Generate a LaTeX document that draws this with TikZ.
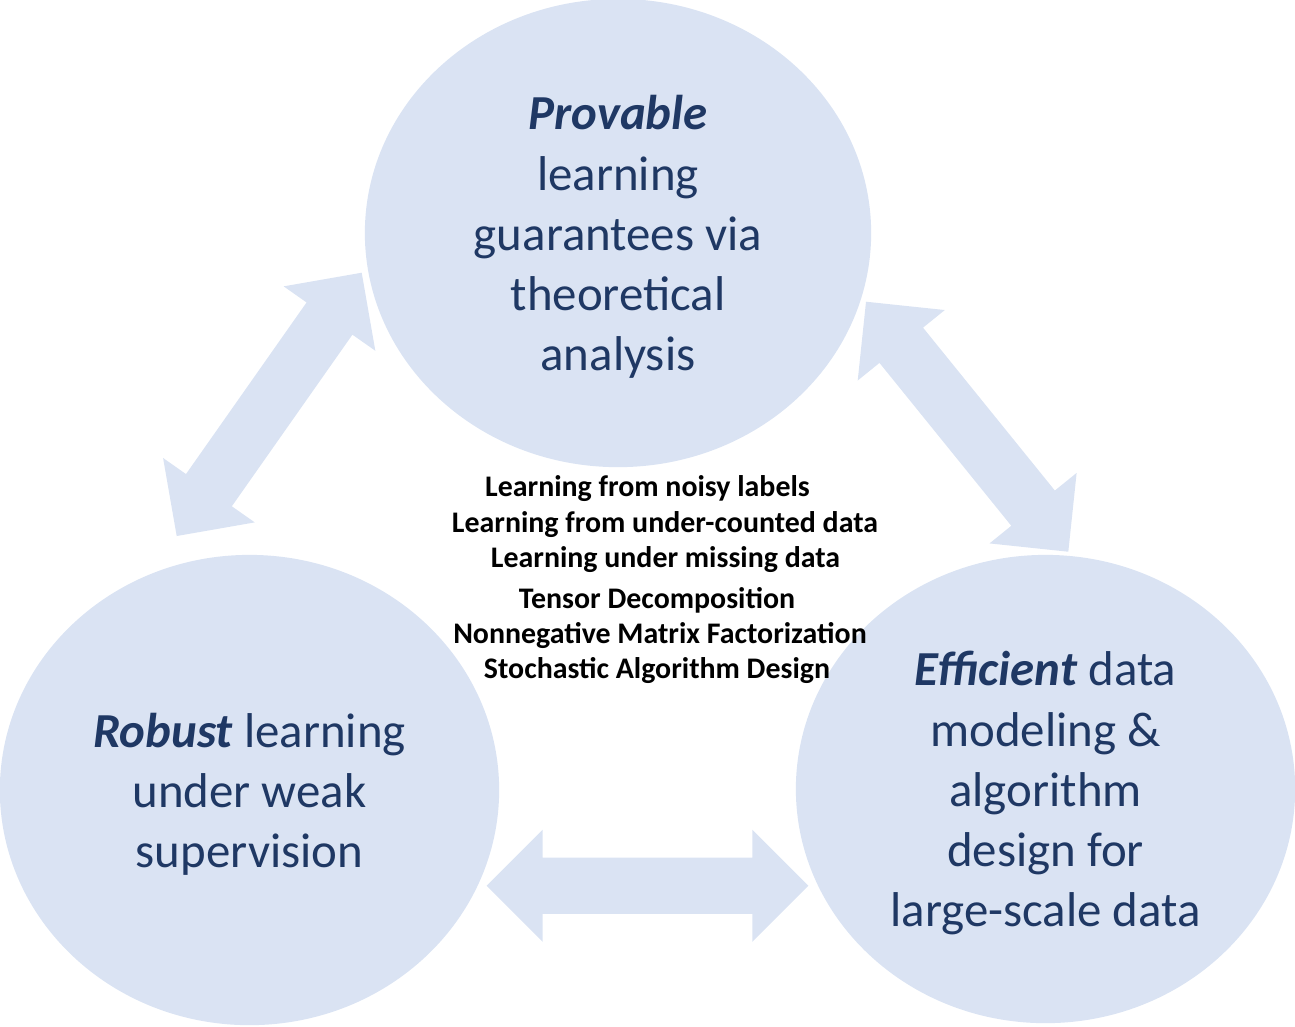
\documentclass[tikz,border=0pt]{standalone}
\usepackage{fontspec}
\setmainfont{Carlito}
\usepackage{tikz}
\usetikzlibrary{shapes.geometric, calc}
\definecolor{bubblecolor}{RGB}{218,227,243}
\definecolor{inkcolor}{RGB}{31,56,100}

% double block arrow between two named tips
\newcommand{\blockarrow}[2]{%
  \coordinate (#1h) at ($(#1)!0.56cm!(#2)$);
  \coordinate (#2h) at ($(#2)!0.56cm!(#1)$);
  \fill[arrowfill] (#1) -- ($(#1h)!0.56cm!90:(#2)$) -- ($(#1h)!0.28cm!90:(#2)$)
    -- ($(#2h)!0.28cm!-90:(#1)$) -- ($(#2h)!0.56cm!-90:(#1)$) -- (#2)
    -- ($(#2h)!0.56cm!90:(#1)$) -- ($(#2h)!0.28cm!90:(#1)$)
    -- ($(#1h)!0.28cm!-90:(#2)$) -- ($(#1h)!0.56cm!-90:(#2)$) -- cycle;
}

\begin{document}
\begin{tikzpicture}[
    x=0.01cm, y=-0.01cm,
    bubble/.style={ellipse, fill=bubblecolor, inner sep=0pt, align=center, text=inkcolor, text depth=0pt, font=\fontsize{13.9}{17.1}\selectfont},
    topic/.style={anchor=base, font=\fontsize{8.5}{10}\selectfont\bfseries},
    arrowfill/.style={fill=bubblecolor}
]
    \useasboundingbox (0,0) rectangle (1295,1026);

    % Research thrusts
    \node[bubble, minimum width=5.06cm, minimum height=4.68cm] (provable) at (618,233)
        {\textbf{\textit{Provable}}\\learning\\guarantees via\\theoretical\\analysis};
    \node[bubble, minimum width=4.99cm, minimum height=4.70cm] (robust) at (249.5,790)
        {\textbf{\textit{Robust}} learning\\under weak\\supervision};
    \node[bubble, minimum width=4.99cm, minimum height=4.68cm] (efficient) at (1045.5,789)
        {\textbf{\textit{Efficient}} data\\modeling \&\\algorithm\\design for\\large-scale data};

    % Arrow tips
    \coordinate (lt1) at (361.7,272.7);
    \coordinate (lt2) at (176.7,536);
    \coordinate (rt1) at (866,301.7);
    \coordinate (rt2) at (1068.3,551.7);
    \coordinate (bt1) at (486.7,885.7);
    \coordinate (bt2) at (808.3,885.7);

    % Arrows
    \blockarrow{lt1}{lt2}
    \blockarrow{rt1}{rt2}
    \blockarrow{bt1}{bt2}

    % Topics
    \foreach \tx/\ty/\txt [count=\i] in {
        647.5/496/Learning from noisy labels,
        665/532/Learning from under-counted data,
        665.5/567/Learning under missing data,
        657/608/Tensor Decomposition,
        660/643/Nonnegative Matrix Factorization,
        657/678/Stochastic Algorithm Design}
        \node[topic] (topic\i) at (\tx,\ty) {\txt};
\end{tikzpicture}
\end{document}
